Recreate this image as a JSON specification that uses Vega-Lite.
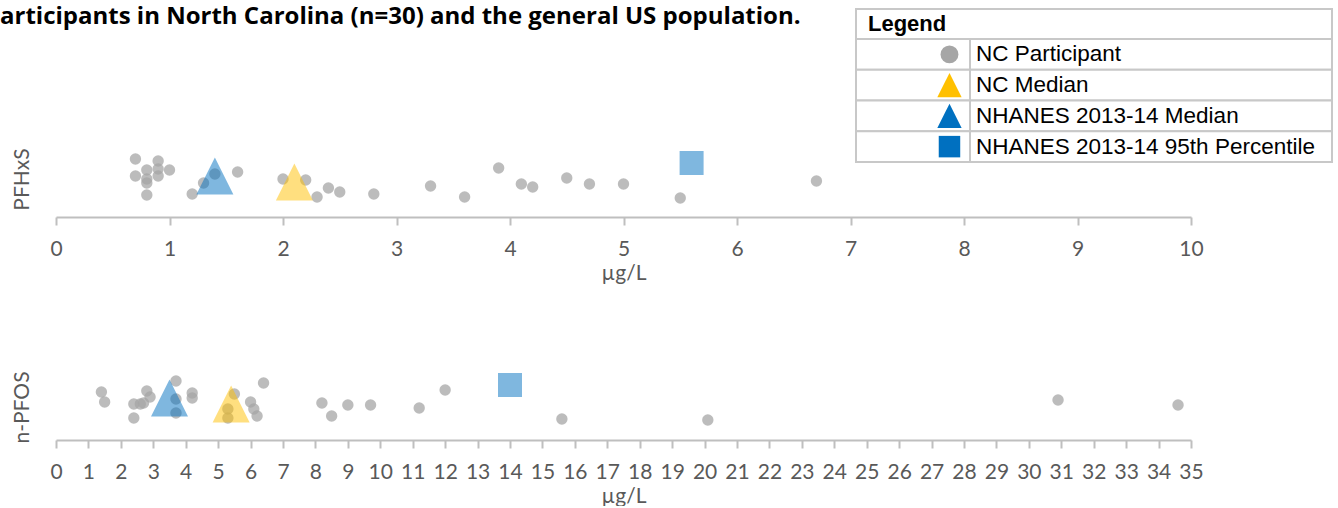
{
  "$schema": "https://vega.github.io/schema/vega-lite/v6.json",
  "background": "white",
  "padding": {"left": 0, "top": 5, "right": 0, "bottom": 0},
  "title": {
    "text": "articipants in North Carolina (n=30) and the general US population.",
    "anchor": "start", "frame": "bounds", "font": "Open Sans", "fontSize": 24, "fontWeight": "bold", "color": "#000000",
    "dx": -11, "offset": -21
  },
  "bounds": "full",
  "spacing": -16,
  "resolve": {"scale": {"size": "independent", "color": "independent", "shape": "independent", "opacity": "independent"}},
  "config": {
    "view": {"stroke": null},
    "font": "Lato",
    "axisX": {
      "domainColor": "#BFBFBF", "domainWidth": 2, "tickColor": "#BFBFBF", "tickWidth": 2, "tickSize": 8,
      "labelFont": "Lato", "labelFontSize": 21, "labelColor": "#595959", "labelPadding": 13,
      "labelFlush": false, "labelOverlap": false,
      "titleFont": "Lato", "titleFontSize": 21, "titleFontWeight": "normal", "titleColor": "#595959", "titlePadding": 3,
      "grid": false
    },
    "axisY": {
      "labels": false, "ticks": false, "domain": false, "grid": false,
      "titleFont": "Lato", "titleFontSize": 21, "titleFontWeight": "normal", "titleColor": "#595959", "titlePadding": 24
    }
  },
  "datasets": {
    "legendHead": [{"text": "Legend"}],
    "legendRows": [
      {"type": "NC Participant"},
      {"type": "NC Median"},
      {"type": "NHANES 2013-14 Median"},
      {"type": "NHANES 2013-14 95th Percentile"}
    ],
    "points": [
      {"analyte": "PFHxS", "type": "NC Participant", "value": 0.7, "jitter": 58},
      {"analyte": "PFHxS", "type": "NC Participant", "value": 0.7, "jitter": 41},
      {"analyte": "PFHxS", "type": "NC Participant", "value": 0.8, "jitter": 47},
      {"analyte": "PFHxS", "type": "NC Participant", "value": 0.8, "jitter": 38},
      {"analyte": "PFHxS", "type": "NC Participant", "value": 0.8, "jitter": 34},
      {"analyte": "PFHxS", "type": "NC Participant", "value": 0.8, "jitter": 22},
      {"analyte": "PFHxS", "type": "NC Participant", "value": 0.9, "jitter": 56},
      {"analyte": "PFHxS", "type": "NC Participant", "value": 0.9, "jitter": 48},
      {"analyte": "PFHxS", "type": "NC Participant", "value": 0.9, "jitter": 41},
      {"analyte": "PFHxS", "type": "NC Participant", "value": 1.0, "jitter": 47},
      {"analyte": "PFHxS", "type": "NC Participant", "value": 1.2, "jitter": 23},
      {"analyte": "PFHxS", "type": "NC Participant", "value": 1.3, "jitter": 34},
      {"analyte": "PFHxS", "type": "NC Participant", "value": 1.4, "jitter": 43},
      {"analyte": "PFHxS", "type": "NC Participant", "value": 1.6, "jitter": 45},
      {"analyte": "PFHxS", "type": "NC Participant", "value": 2.0, "jitter": 38},
      {"analyte": "PFHxS", "type": "NC Participant", "value": 2.2, "jitter": 37},
      {"analyte": "PFHxS", "type": "NC Participant", "value": 2.3, "jitter": 20},
      {"analyte": "PFHxS", "type": "NC Participant", "value": 2.4, "jitter": 29},
      {"analyte": "PFHxS", "type": "NC Participant", "value": 2.5, "jitter": 25},
      {"analyte": "PFHxS", "type": "NC Participant", "value": 2.8, "jitter": 23},
      {"analyte": "PFHxS", "type": "NC Participant", "value": 3.3, "jitter": 31},
      {"analyte": "PFHxS", "type": "NC Participant", "value": 3.6, "jitter": 20},
      {"analyte": "PFHxS", "type": "NC Participant", "value": 3.9, "jitter": 49},
      {"analyte": "PFHxS", "type": "NC Participant", "value": 4.1, "jitter": 33},
      {"analyte": "PFHxS", "type": "NC Participant", "value": 4.2, "jitter": 30},
      {"analyte": "PFHxS", "type": "NC Participant", "value": 4.5, "jitter": 39},
      {"analyte": "PFHxS", "type": "NC Participant", "value": 4.7, "jitter": 33},
      {"analyte": "PFHxS", "type": "NC Participant", "value": 5.0, "jitter": 33},
      {"analyte": "PFHxS", "type": "NC Participant", "value": 5.5, "jitter": 19},
      {"analyte": "PFHxS", "type": "NC Participant", "value": 6.7, "jitter": 36},
      {"analyte": "PFHxS", "type": "NC Median", "value": 2.1, "jitter": 35},
      {"analyte": "PFHxS", "type": "NHANES 2013-14 Median", "value": 1.4, "jitter": 41},
      {"analyte": "PFHxS", "type": "NHANES 2013-14 95th Percentile", "value": 5.6, "jitter": 54},
      {"analyte": "n-PFOS", "type": "NC Participant", "value": 1.4, "jitter": 48},
      {"analyte": "n-PFOS", "type": "NC Participant", "value": 1.5, "jitter": 38},
      {"analyte": "n-PFOS", "type": "NC Participant", "value": 2.4, "jitter": 36},
      {"analyte": "n-PFOS", "type": "NC Participant", "value": 2.4, "jitter": 22},
      {"analyte": "n-PFOS", "type": "NC Participant", "value": 2.6, "jitter": 36},
      {"analyte": "n-PFOS", "type": "NC Participant", "value": 2.7, "jitter": 37},
      {"analyte": "n-PFOS", "type": "NC Participant", "value": 2.8, "jitter": 49},
      {"analyte": "n-PFOS", "type": "NC Participant", "value": 2.9, "jitter": 43},
      {"analyte": "n-PFOS", "type": "NC Participant", "value": 3.7, "jitter": 59},
      {"analyte": "n-PFOS", "type": "NC Participant", "value": 3.7, "jitter": 41},
      {"analyte": "n-PFOS", "type": "NC Participant", "value": 3.7, "jitter": 27},
      {"analyte": "n-PFOS", "type": "NC Participant", "value": 4.2, "jitter": 47},
      {"analyte": "n-PFOS", "type": "NC Participant", "value": 4.2, "jitter": 42},
      {"analyte": "n-PFOS", "type": "NC Participant", "value": 5.3, "jitter": 31},
      {"analyte": "n-PFOS", "type": "NC Participant", "value": 5.3, "jitter": 22},
      {"analyte": "n-PFOS", "type": "NC Participant", "value": 5.5, "jitter": 46},
      {"analyte": "n-PFOS", "type": "NC Participant", "value": 6.0, "jitter": 38},
      {"analyte": "n-PFOS", "type": "NC Participant", "value": 6.1, "jitter": 31},
      {"analyte": "n-PFOS", "type": "NC Participant", "value": 6.2, "jitter": 24},
      {"analyte": "n-PFOS", "type": "NC Participant", "value": 6.4, "jitter": 57},
      {"analyte": "n-PFOS", "type": "NC Participant", "value": 8.2, "jitter": 37},
      {"analyte": "n-PFOS", "type": "NC Participant", "value": 8.5, "jitter": 24},
      {"analyte": "n-PFOS", "type": "NC Participant", "value": 9.0, "jitter": 35},
      {"analyte": "n-PFOS", "type": "NC Participant", "value": 9.7, "jitter": 35},
      {"analyte": "n-PFOS", "type": "NC Participant", "value": 11.2, "jitter": 32},
      {"analyte": "n-PFOS", "type": "NC Participant", "value": 12.0, "jitter": 50},
      {"analyte": "n-PFOS", "type": "NC Participant", "value": 15.6, "jitter": 21},
      {"analyte": "n-PFOS", "type": "NC Participant", "value": 20.1, "jitter": 20},
      {"analyte": "n-PFOS", "type": "NC Participant", "value": 30.9, "jitter": 40},
      {"analyte": "n-PFOS", "type": "NC Participant", "value": 34.6, "jitter": 35},
      {"analyte": "n-PFOS", "type": "NC Median", "value": 5.4, "jitter": 36},
      {"analyte": "n-PFOS", "type": "NHANES 2013-14 Median", "value": 3.5, "jitter": 42},
      {"analyte": "n-PFOS", "type": "NHANES 2013-14 95th Percentile", "value": 14.0, "jitter": 55}
    ]
  },
  "vconcat": [
    {
      "spacing": 0,
      "bounds": "full",
      "hconcat": [
        {
          "width": 799,
          "height": 153,
          "data": {"values": []},
          "mark": "point"
        },
        {
          "spacing": 0,
          "bounds": "flush",
          "vconcat": [
            {
              "width": 476,
              "height": 30,
              "data": {"name": "legendHead"},
              "layer": [
                {"mark": {"type": "rect", "fill": "white", "stroke": "#C8C8C8", "strokeWidth": 2}, "encoding": {}},
                {
                  "mark": {"type": "text", "align": "left", "baseline": "middle", "font": "Liberation Sans", "fontSize": 22, "fontWeight": "bold", "color": "#000000", "dx": 12},
                  "encoding": {
                    "text": {"field": "text"},
                    "x": {"datum": 0, "type": "quantitative", "scale": {"domain": [0, 1]}, "axis": null}
                  }
                }
              ]
            },
            {
              "spacing": 0,
              "bounds": "flush",
              "hconcat": [
                {
                  "width": 114,
                  "height": 123,
                  "data": {"name": "legendRows"},
                  "layer": [
                    {
                      "mark": {"type": "rect", "fill": "white", "stroke": "#C8C8C8", "strokeWidth": 2},
                      "encoding": {
                        "y": {"field": "type", "type": "nominal", "sort": null, "scale": {"paddingInner": 0, "paddingOuter": 0}, "axis": null}
                      }
                    },
                    {
                      "mark": {"type": "point", "filled": true, "opacity": 1, "strokeWidth": 0},
                      "encoding": {
                        "y": {"field": "type", "type": "nominal", "sort": null, "scale": {"paddingInner": 0, "paddingOuter": 0}, "axis": null},
                        "x": {"datum": 0.82, "type": "quantitative", "scale": {"domain": [0, 1]}, "axis": null},
                        "shape": {"field": "type", "type": "nominal", "legend": null,
                          "scale": {"domain": ["NC Participant", "NC Median", "NHANES 2013-14 Median", "NHANES 2013-14 95th Percentile"], "range": ["circle", "M0,-1L1,1L-1,1Z", "M0,-1L1,1L-1,1Z", "square"]}},
                        "color": {"field": "type", "type": "nominal", "legend": null,
                          "scale": {"domain": ["NC Participant", "NC Median", "NHANES 2013-14 Median", "NHANES 2013-14 95th Percentile"], "range": ["#A6A6A6", "#FFC000", "#0070C0", "#0070C0"]}},
                        "size": {"field": "type", "type": "nominal", "legend": null,
                          "scale": {"type": "ordinal", "domain": ["NC Participant", "NC Median", "NHANES 2013-14 Median", "NHANES 2013-14 95th Percentile"], "range": [320, 590, 590, 462]}}
                      }
                    }
                  ]
                },
                {
                  "width": 362,
                  "height": 123,
                  "data": {"name": "legendRows"},
                  "layer": [
                    {
                      "mark": {"type": "rect", "fill": "white", "stroke": "#C8C8C8", "strokeWidth": 2},
                      "encoding": {
                        "y": {"field": "type", "type": "nominal", "sort": null, "scale": {"paddingInner": 0, "paddingOuter": 0}, "axis": null}
                      }
                    },
                    {
                      "mark": {"type": "text", "align": "left", "baseline": "middle", "font": "Liberation Sans", "fontSize": 22.5, "color": "#000000", "dx": 6},
                      "encoding": {
                        "y": {"field": "type", "type": "nominal", "sort": null, "scale": {"paddingInner": 0, "paddingOuter": 0}, "axis": null},
                        "x": {"datum": 0, "type": "quantitative", "scale": {"domain": [0, 1]}, "axis": null},
                        "text": {"field": "type"}
                      }
                    }
                  ]
                }
              ]
            }
          ]
        }
      ]
    },
    {
      "spacing": 87,
      "bounds": "full",
      "vconcat": [
        {
          "width": 1135,
          "height": 50,
          "data": {"name": "points"},
          "transform": [{"filter": "datum.analyte == 'PFHxS'"}],
          "mark": {"type": "point", "filled": true, "strokeWidth": 0},
          "encoding": {
            "x": {"field": "value", "type": "quantitative", "scale": {"domain": [0, 10], "nice": false, "zero": false},
              "axis": {"title": "µg/L", "values": [0, 1, 2, 3, 4, 5, 6, 7, 8, 9, 10]}},
            "y": {"field": "jitter", "type": "quantitative", "scale": {"domain": [0, 50], "nice": false, "zero": false},
              "axis": {"title": "PFHxS", "titleY": 12}},
            "shape": {"field": "type", "type": "nominal", "legend": null,
              "scale": {"domain": ["NC Participant", "NC Median", "NHANES 2013-14 Median", "NHANES 2013-14 95th Percentile"], "range": ["circle", "M0,-1L1,1L-1,1Z", "M0,-1L1,1L-1,1Z", "square"]}},
            "color": {"field": "type", "type": "nominal", "legend": null,
              "scale": {"domain": ["NC Participant", "NC Median", "NHANES 2013-14 Median", "NHANES 2013-14 95th Percentile"], "range": ["#A6A6A6", "#FFC000", "#0070C0", "#0070C0"]}},
            "size": {"field": "type", "type": "nominal", "legend": null,
              "scale": {"type": "ordinal", "domain": ["NC Participant", "NC Median", "NHANES 2013-14 Median", "NHANES 2013-14 95th Percentile"], "range": [130, 1369, 1369, 576]}},
            "opacity": {"field": "type", "type": "nominal", "legend": null,
              "scale": {"type": "ordinal", "domain": ["NC Participant", "NC Median", "NHANES 2013-14 Median", "NHANES 2013-14 95th Percentile"], "range": [0.75, 0.5, 0.5, 0.5]}}
          }
        },
        {
          "width": 1135,
          "height": 50,
          "data": {"name": "points"},
          "transform": [{"filter": "datum.analyte == 'n-PFOS'"}],
          "mark": {"type": "point", "filled": true, "strokeWidth": 0},
          "encoding": {
            "x": {"field": "value", "type": "quantitative", "scale": {"domain": [0, 35], "nice": false, "zero": false},
              "axis": {"title": "µg/L", "values": [0, 1, 2, 3, 4, 5, 6, 7, 8, 9, 10, 11, 12, 13, 14, 15, 16, 17, 18, 19, 20, 21, 22, 23, 24, 25, 26, 27, 28, 29, 30, 31, 32, 33, 34, 35]}},
            "y": {"field": "jitter", "type": "quantitative", "scale": {"domain": [0, 50], "nice": false, "zero": false},
              "axis": {"title": "n-PFOS", "titleY": 17}},
            "shape": {"field": "type", "type": "nominal", "legend": null,
              "scale": {"domain": ["NC Participant", "NC Median", "NHANES 2013-14 Median", "NHANES 2013-14 95th Percentile"], "range": ["circle", "M0,-1L1,1L-1,1Z", "M0,-1L1,1L-1,1Z", "square"]}},
            "color": {"field": "type", "type": "nominal", "legend": null,
              "scale": {"domain": ["NC Participant", "NC Median", "NHANES 2013-14 Median", "NHANES 2013-14 95th Percentile"], "range": ["#A6A6A6", "#FFC000", "#0070C0", "#0070C0"]}},
            "size": {"field": "type", "type": "nominal", "legend": null,
              "scale": {"type": "ordinal", "domain": ["NC Participant", "NC Median", "NHANES 2013-14 Median", "NHANES 2013-14 95th Percentile"], "range": [130, 1369, 1369, 576]}},
            "opacity": {"field": "type", "type": "nominal", "legend": null,
              "scale": {"type": "ordinal", "domain": ["NC Participant", "NC Median", "NHANES 2013-14 Median", "NHANES 2013-14 95th Percentile"], "range": [0.75, 0.5, 0.5, 0.5]}}
          }
        }
      ]
    }
  ]
}
